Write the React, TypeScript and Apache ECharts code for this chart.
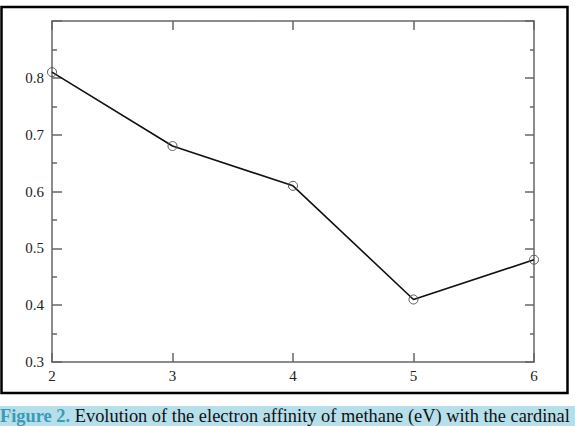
import React, { useEffect, useRef } from "react";
import * as echarts from "echarts";

const xValues = [2, 3, 4, 5, 6];
const affinity = [0.81, 0.68, 0.61, 0.41, 0.48];
const captionLabel = "Figure 2.";
const captionText = " Evolution of the electron affinity of methane (eV) with the cardinal";

export default function App() {
  const ref = useRef<HTMLDivElement>(null);
  useEffect(() => {
    document.body.style.margin = "0";
    const chart = echarts.init(ref.current!, null, { renderer: "svg" });
    const font = "Liberation Serif";
    const mkLine = () => ({ show: true, onZero: false, lineStyle: { color: "#666", width: 1.5 } });
    const mkTick = (len: number) => ({ show: true, inside: true, length: len, lineStyle: { color: "#666", width: 1.5 } });
    const mkMinor = (len: number) => ({ show: true, splitNumber: 2, length: len, lineStyle: { color: "#666", width: 1.5 } });
    chart.setOption({
      animation: false,
      backgroundColor: "#fff",
      grid: { left: 52, top: 21, right: 41, bottom: 64 },
      xAxis: [
        {
          type: "value", min: 2, max: 6, interval: 1, position: "bottom",
          axisLine: mkLine(), axisTick: mkTick(9),
          axisLabel: { color: "#222", fontFamily: font, fontSize: 15, margin: 6 },
          splitLine: { show: false },
        },
        {
          type: "value", min: 2, max: 6, interval: 1, position: "top",
          axisLine: mkLine(), axisTick: mkTick(9),
          axisLabel: { show: false }, splitLine: { show: false },
        },
      ],
      yAxis: [
        {
          type: "value", min: 0.3, max: 0.9, interval: 0.1, position: "left",
          axisLine: mkLine(), axisTick: mkTick(10), minorTick: mkMinor(5),
          axisLabel: { color: "#222", fontFamily: font, fontSize: 15, margin: 8,
            formatter: (v: number) => (v >= 0.89 ? "" : v.toFixed(1)) },
          splitLine: { show: false },
        },
        {
          type: "value", min: 0.3, max: 0.9, interval: 0.1, position: "right",
          axisLine: mkLine(), axisTick: mkTick(9), minorTick: mkMinor(4),
          axisLabel: { show: false }, splitLine: { show: false },
        },
      ],
      series: [
        {
          type: "line",
          data: xValues.map((x, i) => [x, affinity[i]]),
          symbol: "circle",
          symbolSize: 9,
          showSymbol: true,
          itemStyle: { color: "rgba(255,255,255,0)", borderColor: "#555", borderWidth: 1 },
          lineStyle: { color: "#111", width: 1.6 },
          z: 5,
        },
      ],
      graphic: [
        {
          type: "rect", shape: { x: 1.5, y: 7, width: 566, height: 386 },
          style: { fill: "none", stroke: "#000", lineWidth: 2.5 }, silent: true,
        },
        {
          type: "rect", shape: { x: 0, y: 406, width: 575, height: 20 },
          style: { fill: "#b5dfea" }, silent: true,
        },
        {
          type: "text", x: 0, y: 416,
          style: {
            text: "{a|" + captionLabel + "}{b|" + captionText + "}",
            verticalAlign: "middle",
            rich: {
              a: { fontFamily: font, fontSize: 18.4, fontWeight: "bold", fill: "#3b9ab4" },
              b: { fontFamily: font, fontSize: 18.4, fill: "#111" },
            },
          },
          silent: true,
        },
      ],
    });
    return () => chart.dispose();
  }, []);
  return <div ref={ref} style={{ width: 575, height: 426 }} />;
}
